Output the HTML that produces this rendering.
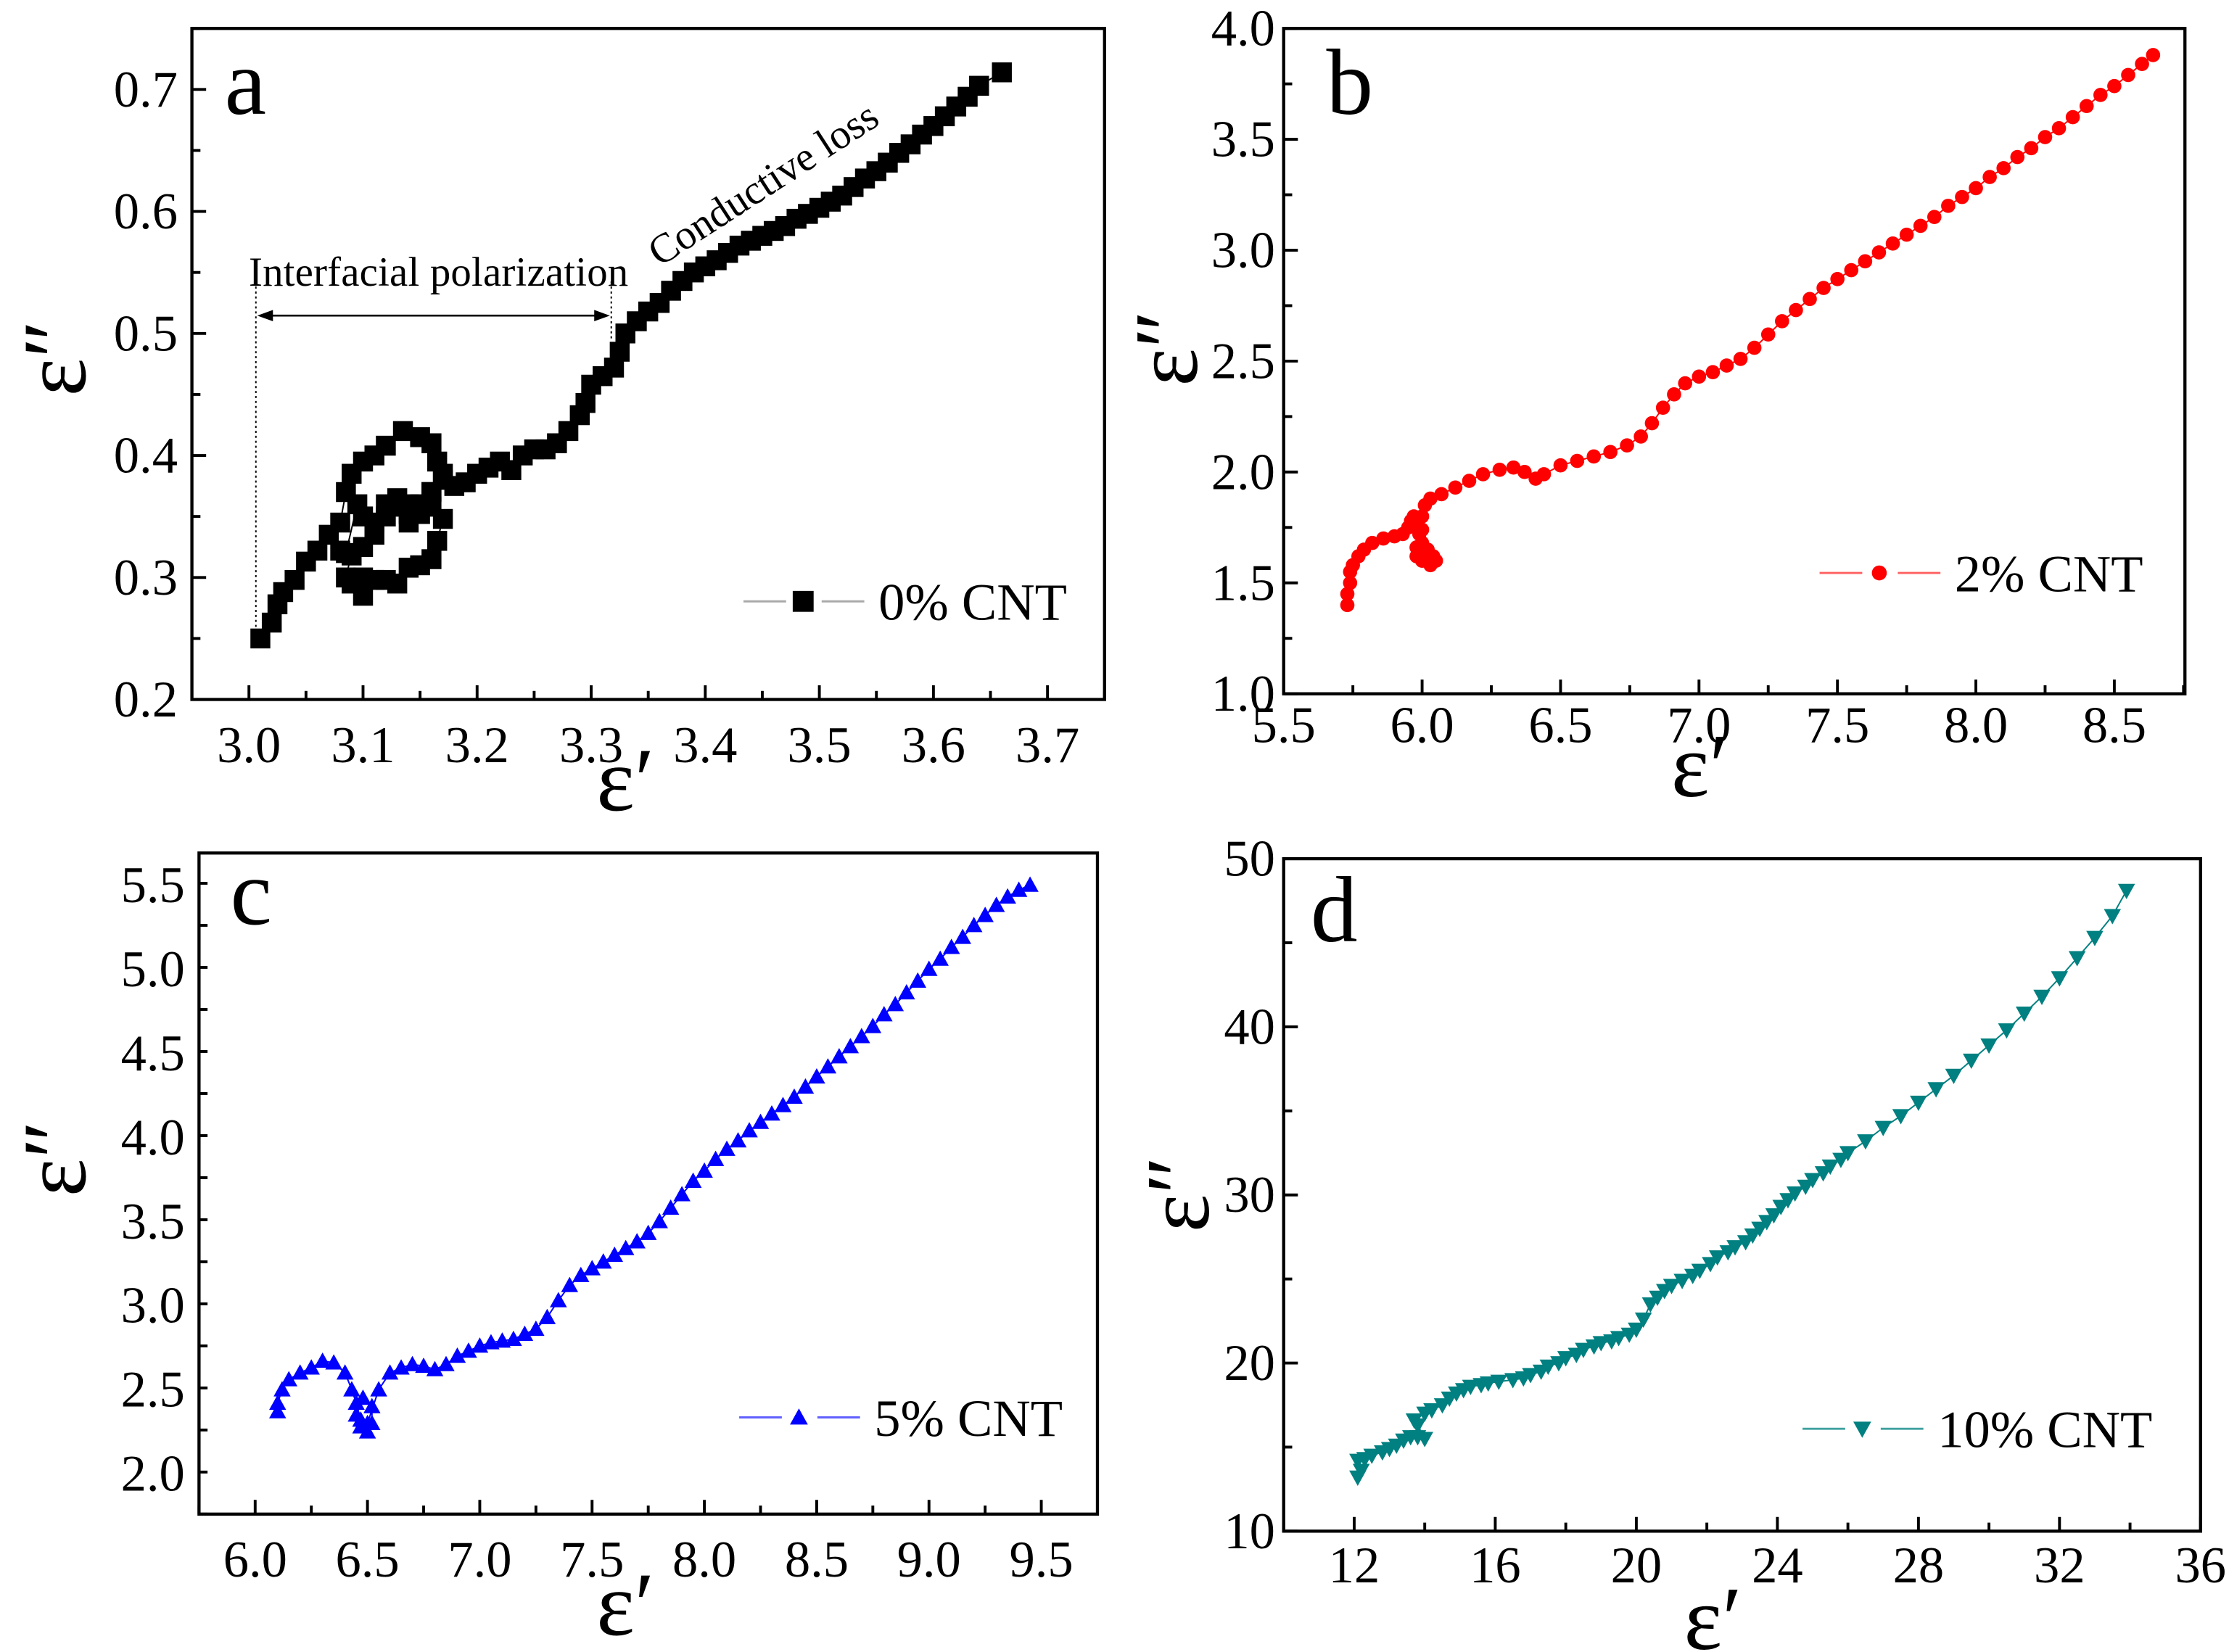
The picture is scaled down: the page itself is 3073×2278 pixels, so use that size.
<!DOCTYPE html>
<html><head><meta charset="utf-8"><style>
html,body{margin:0;padding:0;background:#fff;}
svg{display:block;}
text{font-family:"Liberation Serif",serif;fill:#000;}
</style></head><body>
<svg id="fig" width="3073" height="2278" viewBox="0 0 1568 1162" preserveAspectRatio="none" xmlns="http://www.w3.org/2000/svg">
<rect width="1568" height="1162" fill="#fff"/>
</svg>
<script>
// ---- Panel a data ----
const aX=[3.01,3.02,3.025,3.03,3.04,3.05,3.06,3.07,3.08,3.085,3.09,3.1,3.11,3.12,3.135,3.15,3.16,3.165,3.17,3.16,3.15,3.14,3.13,3.12,3.11,3.1,3.095,3.085,3.08,3.09,3.1,3.11,3.12,3.13,3.14,3.15,3.16,3.17,3.165,3.16,3.15,3.14,3.13,3.12,3.11,3.1,3.1,3.09,3.085,3.09,3.14,3.16,3.17,3.18,3.19,3.2,3.21,3.22,3.23,3.24,3.25,3.26,3.27,3.28,3.29,3.295,3.3,3.31,3.32,3.325,3.33,3.34,3.35,3.36,3.37,3.38,3.39,3.4,3.41,3.42,3.43,3.44,3.45,3.46,3.47,3.48,3.49,3.5,3.51,3.52,3.53,3.54,3.55,3.56,3.57,3.58,3.59,3.6,3.61,3.62,3.63,3.64,3.66];
const aY=[0.25,0.263,0.278,0.288,0.298,0.313,0.322,0.335,0.345,0.37,0.385,0.395,0.4,0.408,0.42,0.415,0.41,0.395,0.385,0.37,0.36,0.352,0.365,0.36,0.345,0.35,0.36,0.32,0.322,0.318,0.325,0.335,0.35,0.358,0.345,0.352,0.358,0.348,0.33,0.315,0.31,0.308,0.295,0.298,0.298,0.285,0.3,0.295,0.3,0.32,0.36,0.37,0.38,0.375,0.378,0.385,0.39,0.395,0.388,0.4,0.405,0.405,0.41,0.42,0.433,0.443,0.458,0.465,0.472,0.485,0.5,0.51,0.518,0.525,0.535,0.543,0.55,0.555,0.56,0.566,0.572,0.576,0.58,0.584,0.588,0.594,0.598,0.603,0.608,0.613,0.62,0.627,0.633,0.64,0.648,0.655,0.663,0.67,0.678,0.686,0.694,0.703,0.714];
// ---- Panel b data ----
const bX=[5.73,5.73,5.74,5.74,5.75,5.77,5.79,5.82,5.86,5.9,5.93,5.95,5.96,5.97,5.98,5.99,6.0,6.02,6.04,6.05,6.03,6.0,5.98,5.98,6.0,6.0,6.01,6.03,6.07,6.12,6.17,6.22,6.28,6.33,6.37,6.41,6.44,6.5,6.56,6.62,6.68,6.74,6.79,6.83,6.87,6.91,6.95,7.0,7.05,7.1,7.15,7.2,7.25,7.3,7.35,7.4,7.45,7.5,7.55,7.6,7.65,7.7,7.75,7.8,7.85,7.9,7.95,8.0,8.05,8.1,8.15,8.2,8.25,8.3,8.35,8.4,8.45,8.5,8.55,8.6,8.64];
const bY=[1.4,1.45,1.5,1.55,1.58,1.62,1.65,1.68,1.7,1.71,1.72,1.75,1.78,1.8,1.76,1.72,1.68,1.65,1.62,1.6,1.58,1.6,1.62,1.66,1.74,1.8,1.85,1.88,1.9,1.93,1.96,1.99,2.01,2.02,2.0,1.97,1.99,2.03,2.05,2.07,2.09,2.12,2.16,2.22,2.29,2.35,2.4,2.43,2.45,2.48,2.51,2.56,2.62,2.68,2.73,2.78,2.83,2.87,2.91,2.95,2.99,3.03,3.07,3.11,3.15,3.2,3.24,3.28,3.33,3.37,3.42,3.46,3.51,3.55,3.6,3.65,3.7,3.74,3.79,3.84,3.88];
// ---- Panel c data ----
const cX=[6.1,6.1,6.12,6.15,6.2,6.25,6.3,6.35,6.4,6.43,6.45,6.47,6.5,6.52,6.52,6.48,6.45,6.47,6.5,6.55,6.6,6.65,6.7,6.75,6.8,6.85,6.9,6.95,7.0,7.05,7.1,7.15,7.2,7.25,7.3,7.35,7.4,7.45,7.5,7.55,7.6,7.65,7.7,7.75,7.8,7.85,7.9,7.95,8.0,8.05,8.1,8.15,8.2,8.25,8.3,8.35,8.4,8.45,8.5,8.55,8.6,8.65,8.7,8.75,8.8,8.85,8.9,8.95,9.0,9.05,9.1,9.15,9.2,9.25,9.3,9.35,9.4,9.45];
const cY=[2.37,2.42,2.5,2.56,2.6,2.63,2.67,2.66,2.6,2.5,2.42,2.32,2.25,2.3,2.4,2.45,2.35,2.28,2.3,2.5,2.6,2.63,2.65,2.64,2.62,2.65,2.7,2.73,2.76,2.78,2.79,2.8,2.83,2.86,2.93,3.03,3.12,3.18,3.22,3.26,3.3,3.34,3.38,3.43,3.5,3.58,3.66,3.74,3.8,3.87,3.93,3.98,4.04,4.09,4.14,4.19,4.24,4.3,4.36,4.42,4.48,4.54,4.6,4.66,4.73,4.79,4.86,4.93,5.0,5.06,5.13,5.19,5.26,5.32,5.38,5.43,5.47,5.5];
// ---- Panel d data ----
const dX=[12.1,12.2,12.1,12.3,12.5,12.8,13.0,13.2,13.4,13.6,13.8,14.0,13.8,13.7,14.0,14.2,14.5,14.7,14.9,15.1,15.3,15.6,15.8,16.1,16.5,16.8,17.0,17.3,17.5,17.8,18.0,18.3,18.5,18.8,19.0,19.3,19.5,19.8,20.0,20.2,20.4,20.6,20.8,21.0,21.3,21.6,21.8,22.1,22.3,22.6,22.8,23.1,23.3,23.5,23.7,23.9,24.1,24.3,24.5,24.8,25.0,25.3,25.5,25.8,26.0,26.5,27.0,27.5,28.0,28.5,29.0,29.5,30.0,30.5,31.0,31.5,32.0,32.5,33.0,33.5,33.9];
const dY=[13.2,13.6,14.2,14.3,14.5,14.7,14.9,15.1,15.4,15.6,15.6,15.5,16.3,16.6,17.0,17.2,17.5,17.9,18.2,18.4,18.6,18.7,18.8,18.9,19.0,19.1,19.3,19.5,19.8,20.0,20.3,20.5,20.8,21.0,21.2,21.3,21.5,21.7,22.0,22.6,23.5,23.9,24.3,24.6,24.9,25.2,25.5,25.9,26.3,26.6,26.9,27.2,27.6,28.0,28.4,28.8,29.3,29.7,30.1,30.5,30.9,31.3,31.7,32.1,32.5,33.2,34.0,34.7,35.5,36.3,37.1,38.0,38.9,39.8,40.8,41.8,42.9,44.1,45.3,46.6,48.1];
// ---- tick labels ----
const aXTicks=["3.0","3.1","3.2","3.3","3.4","3.5","3.6","3.7"];
const aYTicks=["0.2","0.3","0.4","0.5","0.6","0.7"];
const bXTicks=["5.5","6.0","6.5","7.0","7.5","8.0","8.5"];
const bYTicks=["1.0","1.5","2.0","2.5","3.0","3.5","4.0"];
const cXTicks=["6.0","6.5","7.0","7.5","8.0","8.5","9.0","9.5"];
const cYTicks=["2.0","2.5","3.0","3.5","4.0","4.5","5.0","5.5"];
const dXTicks=["12","16","20","24","28","32","36"];
const dYTicks=["10","20","30","40","50"];

const NS="http://www.w3.org/2000/svg";
const svg=document.getElementById('fig');
function el(tag,attrs,parent){const e=document.createElementNS(NS,tag);for(const k in attrs)e.setAttribute(k,attrs[k]);(parent||svg).appendChild(e);return e;}

function panel(p){
  const g=el('g',{});
  
  
  const sx=v=>p.L+(v-p.x0)/(p.x1-p.x0)*(p.R-p.L);
  const sy=v=>p.B-(v-p.y0)/(p.y1-p.y0)*(p.B-p.T);
  const tg=el('g',{stroke:'#000','stroke-width':2},g);
  
  
  for(let v=p.x0;v<=p.x1+1e-9;v+=p.xminor){
    const maj=Math.abs(((v-p.xmaj0)/p.xmajor)-Math.round((v-p.xmaj0)/p.xmajor))<1e-6;
    el('line',{x1:sx(v),x2:sx(v),y1:p.B,y2:p.B-(maj?10:6)},tg);
  }
  for(let v=p.y0;v<=p.y1+1e-9;v+=p.yminor){
    const maj=Math.abs(((v-p.ymaj0)/p.ymajor)-Math.round((v-p.ymaj0)/p.ymajor))<1e-6;
    el('line',{y1:sy(v),y2:sy(v),x1:p.L,x2:p.L+(maj?10:6)},tg);
  }
  p.xt.forEach(s=>{const t=el('text',{x:sx(parseFloat(s)),y:p.B+p.xly,'font-size':36,'text-anchor':'middle'},g);t.textContent=s;
    });
  p.yt.forEach(s=>{const t=el('text',{x:p.L-p.ylx,y:sy(parseFloat(s))+12,'font-size':36,'text-anchor':'end'},g);t.textContent=s;
    });
  const fr=el('rect',{x:p.L,y:p.T,width:p.R-p.L,height:p.B-p.T,fill:'none',stroke:'#000','stroke-width':2.2},g);
  
  
  const pts=p.xs.map((x,i)=>sx(x)+','+sy(p.ys[i])).join(' ');
  const ln=el('polyline',{points:pts,fill:'none',stroke:p.color,'stroke-width':1},g);
  
  
  const mg=el('g',{fill:p.color},g);
  
  
  p.xs.forEach((x,i)=>{const m=marker(p.mk,sx(x),sy(p.ys[i]),p.ms,mg);
    
    });
  const lg=el('g',{},g);
  
  
  el('line',{x1:p.lg[0],x2:p.lg[0]+85,y1:p.lg[1],y2:p.lg[1],stroke:p.lcolor,'stroke-width':1.5},lg);
  el('rect',{x:p.lg[0]+30,y:p.lg[1]-5,width:25,height:10,fill:'#fff'},lg);
  const lm=el('g',{fill:p.color},lg);
  marker(p.mk,p.lg[0]+42,p.lg[1],p.ms*1.05,lm);
  const lt=el('text',{x:p.lg[0]+95,y:p.lg[1]+13,'font-size':37},lg);lt.textContent=p.label;
  
  const pl=el('text',{x:p.letter[0],y:p.letter[1],'font-size':66},g);pl.textContent=p.id;
  
  const xtl=el('text',{x:p.xlab[0],y:p.xlab[1],'font-size':64,'text-anchor':'middle'},g);xtl.textContent='ε′';
  
  const ytl=el('text',{x:0,y:0,'font-size':64,'text-anchor':'middle',transform:`translate(${p.ylab[0]},${p.ylab[1]}) rotate(-90)`},g);ytl.textContent='ε″';
  
  return {sx,sy,g};
}
function marker(k,x,y,s,par){
  const h=s/2;
  if(k==='sq')return el('rect',{x:x-h,y:y-h,width:s,height:s},par);
  if(k==='ci')return el('circle',{cx:x,cy:y,r:h},par);
  if(k==='up')return el('polygon',{points:`${x},${y-h} ${x-h},${y+h*0.8} ${x+h},${y+h*0.8}`},par);
  return el('polygon',{points:`${x},${y+h} ${x-h},${y-h*0.8} ${x+h},${y-h*0.8}`},par);
}
const A=panel({id:'a',L:135,R:777,T:20,B:492,x0:2.95,x1:3.75,y0:0.2,y1:0.75,xminor:0.05,xmajor:0.1,xmaj0:3.0,yminor:0.05,ymajor:0.1,ymaj0:0.2,
  xt:aXTicks,yt:aYTicks,xly:44,ylx:10,xs:aX,ys:aY,color:'#000',lcolor:'#aaa',mk:'sq',ms:14,label:'0% CNT',lg:[523,423],letter:[158,80],xlab:[440,570],ylab:[60,252]});
const Bp=panel({id:'b',L:903,R:1537,T:20,B:488,x0:5.5,x1:8.755,y0:1.0,y1:4.0,xminor:0.25,xmajor:0.5,xmaj0:5.5,yminor:0.25,ymajor:0.5,ymaj0:1.0,
  xt:bXTicks,yt:bYTicks,xly:34,ylx:6,xs:bX,ys:bY,color:'#ff0000',lcolor:'#ff6060',mk:'ci',ms:10,label:'2% CNT',lg:[1280,403],letter:[933,80],xlab:[1196,560],ylab:[842,245]});
const C=panel({id:'c',L:140,R:772,T:600,B:1065,x0:5.75,x1:9.75,y0:1.76,y1:5.69,xminor:0.25,xmajor:0.5,xmaj0:6.0,yminor:0.25,ymajor:0.5,ymaj0:2.0,
  xt:cXTicks,yt:cYTicks,xly:44,ylx:10,xs:cX,ys:cY,color:'#0000ff',lcolor:'#6060ff',mk:'up',ms:12,label:'5% CNT',lg:[520,997],letter:[162,650],xlab:[440,1150],ylab:[60,815]});
const D=panel({id:'d',L:903,R:1548,T:604,B:1077,x0:10,x1:36,y0:10,y1:50,xminor:2,xmajor:4,xmaj0:12,yminor:5,ymajor:10,ymaj0:10,
  xt:dXTicks,yt:dYTicks,xly:36,ylx:6,xs:dX,ys:dY,color:'#008080',lcolor:'#40a0a0',mk:'dn',ms:12,label:'10% CNT',lg:[1268,1005],letter:[922,662],xlab:[1205,1160],ylab:[850,840]});
const an=el('g',{},A.g);


el('line',{x1:180,x2:180,y1:198,y2:450,stroke:'#000','stroke-width':1,'stroke-dasharray':'1.5,2'},an);
el('line',{x1:430,x2:430,y1:198,y2:240,stroke:'#000','stroke-width':1,'stroke-dasharray':'1.5,2'},an);
el('line',{x1:183,x2:427,y1:222,y2:222,stroke:'#000','stroke-width':1.3},an);
el('polygon',{points:'181,222 192,218 192,226'},an);
el('polygon',{points:'429,222 418,218 418,226'},an);
const t1=el('text',{x:175,y:201,'font-size':29,textLength:267},an);t1.textContent='Interfacial polarization';
const t2=el('text',{x:0,y:0,'font-size':29,transform:'translate(464,188) rotate(-33)'},A.g);t2.textContent='Conductive loss';


</script>
</body></html>
